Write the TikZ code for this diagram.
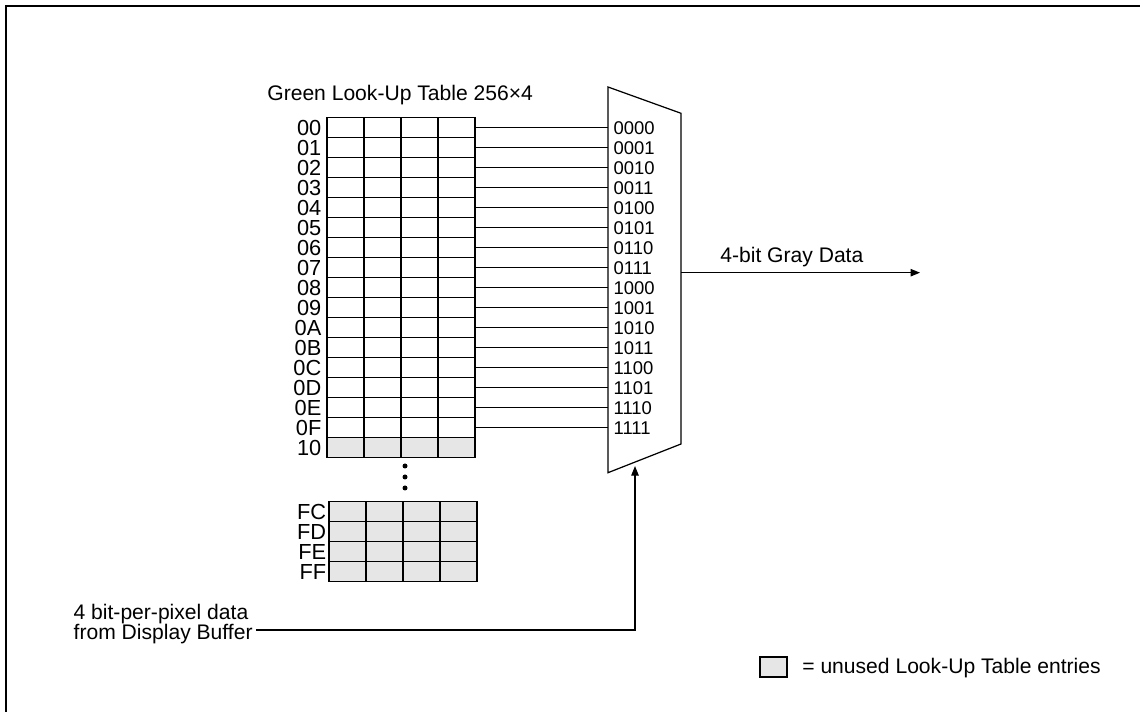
\documentclass[tikz,border=0pt]{standalone}
\usepackage{fontspec}
\setmainfont{Liberation Sans}
\usepackage{tikz}
\usetikzlibrary{arrows.meta,positioning,calc}
\definecolor{cUnused}{HTML}{E6E6E6}
\tikzset{
  cell/.style={rectangle, draw=black, line width=0.7pt, minimum width=0.74cm, minimum height=0.4cm, inner sep=0pt, outer sep=0pt},
  unused/.style={cell, fill=cUnused},
  rowlab/.style={anchor=east, inner sep=0pt, font=\fontsize{12.4}{12.4}\selectfont},
  inlab/.style={anchor=west, inner xsep=0.106cm, inner ysep=0pt, font=\fontsize{10.5}{10.5}\selectfont},
  txt/.style={inner sep=0pt, font=\fontsize{12}{11.8}\selectfont},
  wire/.style={line width=0.55pt},
  mux/.style={line width=0.7pt, line join=miter},
  sig/.style={-{Triangle[length=1.9mm, width=1.5mm]}, line width=0.6pt},
}

\begin{document}
\begin{tikzpicture}[font=\fontsize{12}{11.8}\selectfont]
  \useasboundingbox (0,0) rectangle (22.8,14.24);
  \draw[line width=0.75pt] (0.12,0) -- (0.12,14.12) -- (22.8,14.12);
  \node[txt, anchor=base west] (title) at (5.34, 12.22) {Green Look-Up Table 256×4};
  \coordinate (mux-tl) at (12.16, 12.5);
  \coordinate (mux-tr) at (13.62, 11.974);
  \coordinate (mux-br) at (13.62, 5.36);
  \coordinate (mux-bl) at (12.16, 4.786);
  \draw[mux] (mux-tl) -- (mux-tr) -- (mux-br) -- (mux-bl) -- cycle;
  \foreach \lab/\code [count=\r from 0] in {00/0000, 01/0001, 02/0010, 03/0011, 04/0100, 05/0101, 06/0110, 07/0111, 08/1000, 09/1001, 0A/1010, 0B/1011, 0C/1100, 0D/1101, 0E/1110, 0F/1111} {
    \foreach \c in {0,...,3}
      \node[cell] (g-\r-\c) at (6.91+0.74*\c, 11.686-0.4*\r) {};
    \node[rowlab] (r-\r) at (6.434, 11.686-0.4*\r) {\lab};
    \node[inlab] (m-\r) at (12.16, 11.686-0.4*\r) {\code};
    \draw[wire] (g-\r-3.east) -- (m-\r.west);
  }
  \foreach \c in {0,...,3}
    \node[unused] (g-16-\c) at (6.91+0.74*\c, 5.286) {};
  \node[rowlab] (r-16) at (6.434, 5.286) {10};
  \foreach \y in {4.92, 4.70, 4.48}
    \fill (8.1, \y) circle (0.05);
  \foreach \lab [count=\r from 0] in {FC, FD, FE, FF} {
    \foreach \c in {0,...,3}
      \node[unused] (u-\r-\c) at (6.95+0.74*\c, 4.006-0.4*\r) {};
    \node[rowlab] (f-\r) at (6.53, 4.006-0.4*\r) {\lab};
  }
  \coordinate (mux-out) at (13.62, 8.786);
  \coordinate (out) at (18.4, 8.786);
  \draw[sig] (mux-out) -- (out);
  \node[txt, anchor=base west] (gray) at (14.4, 8.986) {4-bit Gray Data};
  \coordinate (mux-in) at (12.7, 4.998);
  \node[txt, anchor=base west] (buf1) at (1.466, 1.854) {4 bit-per-pixel data};
  \node[txt, anchor=base west, text height=11.4pt, text depth=0pt, inner xsep=0.06cm] (buf2) at (1.406, 1.44) {from Display Buffer};
  \draw[sig, shorten >=0.08cm] (buf2.east) -| (mux-in);
  \node[unused, minimum width=0.54cm] (key) at (15.47, 0.9) {};
  \node[txt, anchor=base west] (keylab) at (16.04, 0.76) {= unused Look-Up Table entries};
\end{tikzpicture}
\end{document}
